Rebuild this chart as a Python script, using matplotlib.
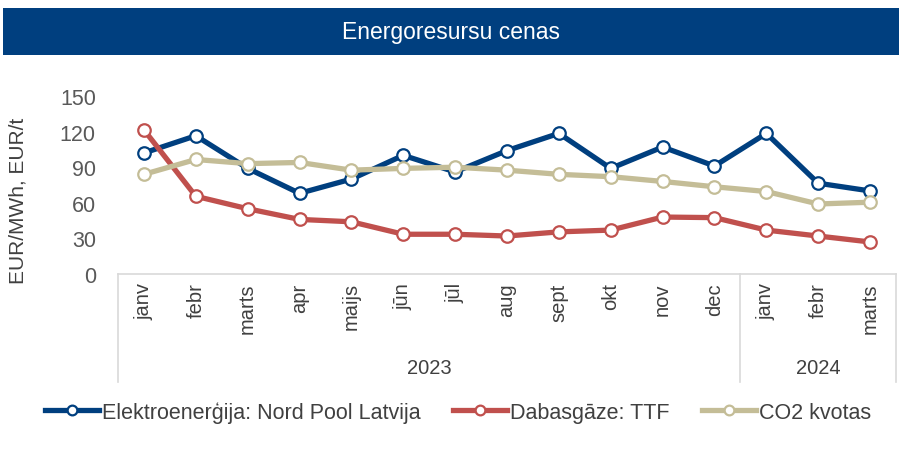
import matplotlib
matplotlib.use("Agg")
import matplotlib.pyplot as plt
from matplotlib.patches import Rectangle

months = ["janv", "febr", "marts", "apr", "maijs", "jūn", "jūl", "aug", "sept", "okt", "nov", "dec",
          "janv", "febr", "marts"]
years = ["2023", "2024"]
year_counts = [12, 3]

electricity = [102, 116.5, 89, 68, 80, 100, 86, 104, 118.5, 89, 107, 91, 118.5, 76.5, 70]
gas = [121.5, 65.5, 55, 46, 44, 33.5, 33.5, 32, 35.5, 37, 48, 47.5, 37, 32, 27]
co2 = [84, 96.5, 93, 94, 87.5, 89, 90, 87.5, 84, 82, 78, 73.5, 69.5, 59, 60.5]

series_names = ["Elektroenerģija: Nord Pool Latvija", "Dabasgāze: TTF", "CO2 kvotas"]
colors = ["#003F7F", "#C0504D", "#C4BD97"]
yticks = [0, 30, 60, 90, 120, 150]

plt.rcParams['font.family'] = ['Liberation Sans', 'DejaVu Sans']
W, H = 899, 456
fig = plt.figure(figsize=(W / 100, H / 100), dpi=100)

# Title bar
fig.patches.append(Rectangle((3 / W, 1 - 56 / H), (W - 3) / W, 47 / H, transform=fig.transFigure,
                             facecolor="#003F7F", edgecolor="none"))
fig.text(451 / W, 1 - 32.5 / H, "Energoresursu cenas", color="white", fontsize=16.5,
         ha="center", va="center")

ax = fig.add_axes([118 / W, 1 - 275 / H, (896 - 118) / W, (275 - 97) / H])
x = list(range(len(months)))
for vals, c, name, z in zip([electricity, gas, co2], colors, series_names, [3, 4, 5]):
    ax.plot(x, vals, color=c, lw=3.8, marker="o", ms=9, mfc="white", mec=c, mew=1.6,
            label=name, zorder=z, clip_on=False, solid_joinstyle="round")

ax.set_xlim(-0.5, len(months) - 0.5)
ax.set_ylim(0, 150)
ax.set_yticks(yticks)
ax.set_xticks(x)
ax.set_xticklabels(months, rotation=90, ha="center", va="top")
ax.tick_params(axis="x", length=0, pad=6, labelsize=14.5, labelcolor="#404040")
ax.tick_params(axis="y", length=0, pad=16, labelsize=15.5, labelcolor="#595959")
for s in ["left", "right", "top"]:
    ax.spines[s].set_visible(False)
ax.spines["bottom"].set_color("#D9D9D9")
ax.spines["bottom"].set_linewidth(1.2)

tr = ax.get_xaxis_transform()
ybot = -(383 - 275) / (275 - 97)
bounds = [-0.5]
acc = -0.5
for n in year_counts:
    acc += n
    bounds.append(acc)
for b in bounds:
    ax.plot([b, b], [0, ybot], transform=tr, color="#D9D9D9", lw=1.2, clip_on=False)
start = -0.5
for yr, n in zip(years, year_counts):
    ax.text(start + n / 2, -(369 - 275) / (275 - 97), yr, transform=tr, ha="center", va="center",
            fontsize=14.5, color="#404040")
    start += n

fig.text(18 / W, 1 - 201 / H, "EUR/MWh, EUR/t", rotation=90, ha="center", va="center",
         fontsize=15, color="#404040")

leg = fig.legend(loc="center", bbox_to_anchor=(458 / W, 1 - 413 / H), ncol=3, frameon=False,
                 fontsize=15.5, handlelength=2.5, handletextpad=0.15, columnspacing=1.5,
                 labelcolor="#404040", numpoints=1)
for h in leg.legend_handles:
    h.set_markersize(7)

fig.savefig("out.png", dpi=100)
